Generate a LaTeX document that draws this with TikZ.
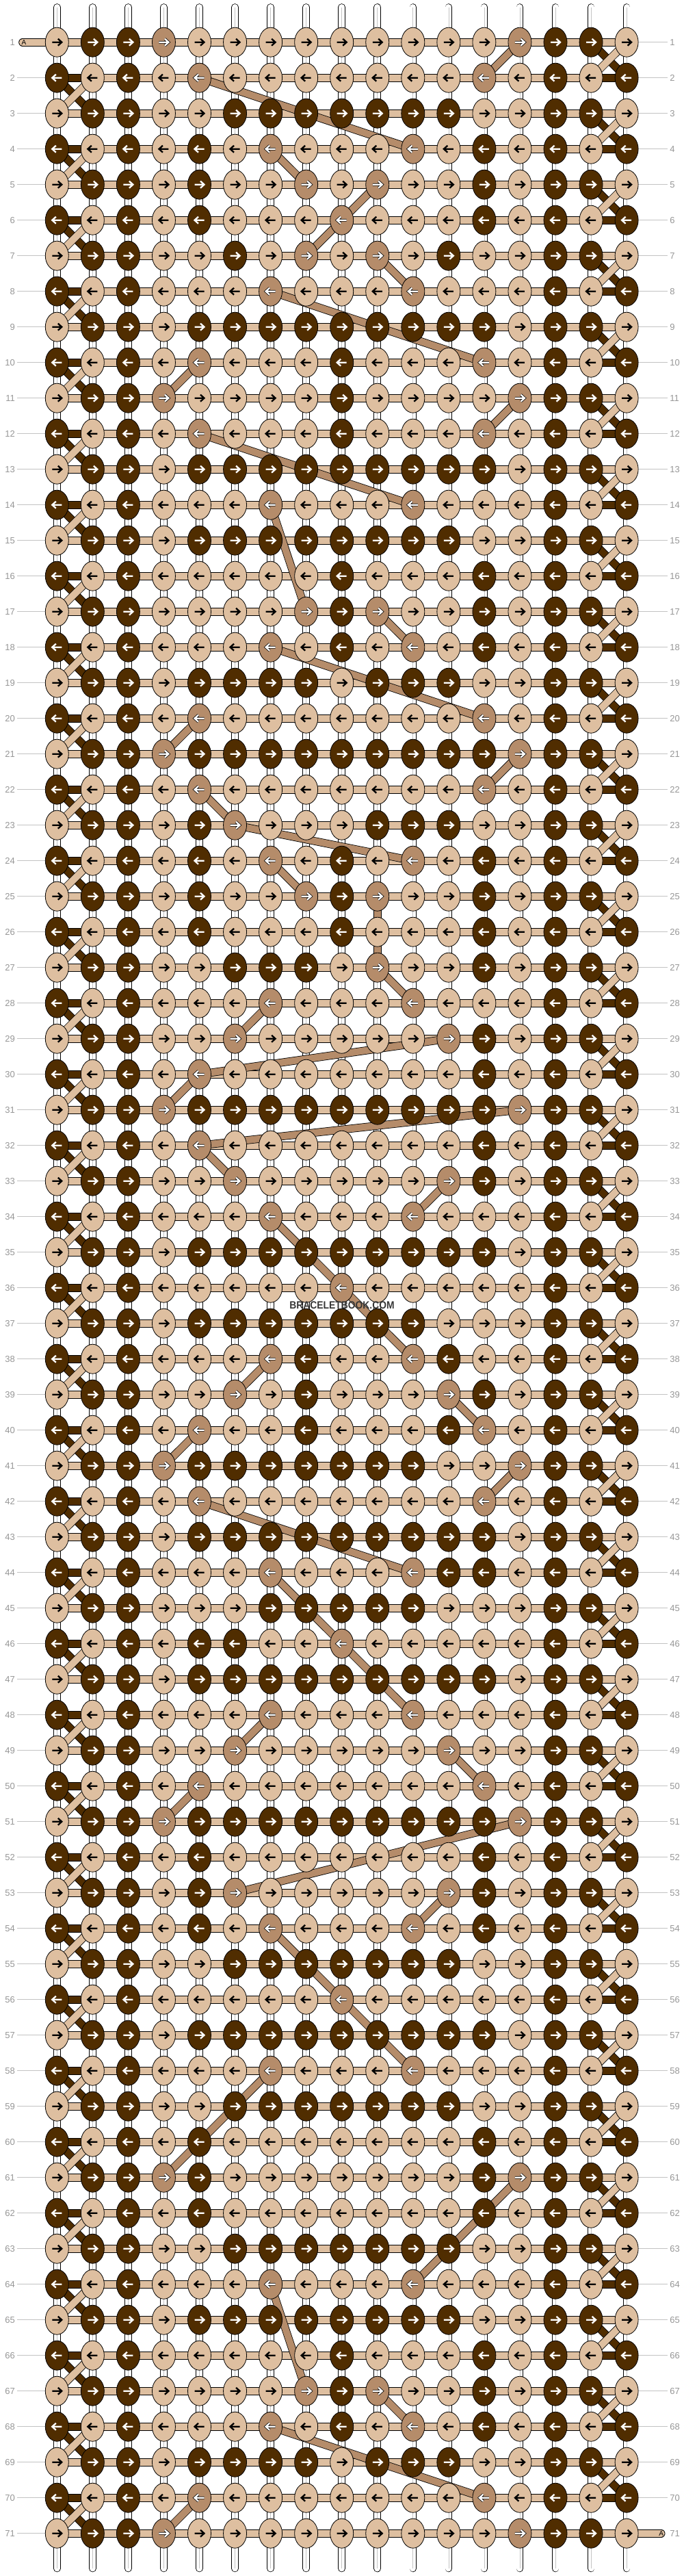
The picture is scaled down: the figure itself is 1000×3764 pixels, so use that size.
\documentclass[tikz,border=0pt]{standalone}
\usepackage{fontspec}
\usepackage{graphicx}
\usetikzlibrary{shapes.geometric}
\newfontfamily\labfont{Liberation Sans}
\definecolor{kL}{RGB}{222,191,160}
\definecolor{kD}{RGB}{80,45,0}
\definecolor{kM}{RGB}{181,140,106}
\definecolor{numgray}{RGB}{150,150,150}
\definecolor{rulegray}{RGB}{195,195,195}
\definecolor{markgray}{RGB}{55,55,55}
\pgfdeclarelayer{strings}
\pgfdeclarelayer{wefts}
\pgfsetlayers{strings,wefts,main}
\tikzset{
  knot/.style={ellipse,draw=black,line width=.8pt,minimum width=34pt,minimum height=43pt,inner sep=0pt},
  weft/.style={draw=black,double=#1,double distance=10pt,line width=.8pt},
  warp/.style={draw=black,double=white,double distance=9pt,line width=.8pt,line cap=round},
  rownum/.style={font=\labfont\fontsize{13}{15}\selectfont,text=numgray,inner sep=3pt},
  arrL/.style={draw=black},
  arrD/.style={draw=white},
  arrM/.style={draw=white,preaction={draw=black,line width=3.8pt}},
}
\begin{document}
\begin{tikzpicture}[x=1pt,y=-1pt,line join=miter]
\useasboundingbox (0,0) rectangle (1000,3764);
%knots, row by row
\foreach \row [count=\r] in {
{L,D,D,M,L,L,L,L,L,L,L,L,L,M,D,D,L},{D,L,D,L,M,L,L,L,L,L,L,L,M,L,D,L,D},
{L,D,D,L,L,D,D,D,D,D,D,D,L,L,D,D,L},{D,L,D,L,D,L,M,L,L,L,M,L,D,L,D,L,D},
{L,D,D,L,D,L,L,M,L,M,L,L,D,L,D,D,L},{D,L,D,L,D,L,L,L,M,L,L,L,D,L,D,L,D},
{L,D,D,L,L,D,L,M,L,M,L,D,L,L,D,D,L},{D,L,D,L,L,L,M,L,L,L,M,L,L,L,D,L,D},
{L,D,D,L,D,D,D,D,D,D,D,D,D,L,D,D,L},{D,L,D,L,M,L,L,L,D,L,L,L,M,L,D,L,D},
{L,D,D,M,L,L,L,L,D,L,L,L,L,M,D,D,L},{D,L,D,L,M,L,L,L,D,L,L,L,M,L,D,L,D},
{L,D,D,L,D,D,D,D,D,D,D,D,D,L,D,D,L},{D,L,D,L,L,L,M,L,L,L,M,L,L,L,D,L,D},
{L,D,D,L,D,D,D,D,D,D,D,D,L,L,D,D,L},{D,L,D,L,L,L,L,L,D,L,L,L,D,L,D,L,D},
{L,D,D,L,L,L,L,M,D,M,L,L,D,L,D,D,L},{D,L,D,L,L,L,M,L,D,L,M,L,D,L,D,L,D},
{L,D,D,L,D,D,D,D,L,D,D,D,L,L,D,D,L},{D,L,D,L,M,L,L,L,L,L,L,L,M,L,D,L,D},
{L,D,D,M,D,D,D,D,D,D,D,D,D,M,D,D,L},{D,L,D,L,M,L,L,L,L,L,L,L,M,L,D,L,D},
{L,D,D,L,D,M,L,L,L,D,D,D,L,L,D,D,L},{D,L,D,L,D,L,M,L,D,L,M,L,D,L,D,L,D},
{L,D,D,L,D,L,L,M,D,M,L,L,D,L,D,D,L},{D,L,D,L,D,L,L,L,D,L,L,L,D,L,D,L,D},
{L,D,D,L,L,D,D,D,L,M,L,L,D,L,D,D,L},{D,L,D,L,L,L,M,L,L,L,M,L,L,L,D,L,D},
{L,D,D,L,L,M,L,L,L,L,L,M,D,L,D,D,L},{D,L,D,L,M,L,L,L,L,L,L,L,D,L,D,L,D},
{L,D,D,M,D,D,D,D,D,D,D,D,D,M,D,D,L},{D,L,D,L,M,L,L,L,L,L,L,L,D,L,D,L,D},
{L,D,D,L,L,M,L,L,L,L,L,M,D,L,D,D,L},{D,L,D,L,L,L,M,L,L,L,M,L,L,L,D,L,D},
{L,D,D,L,D,D,D,D,D,D,D,D,D,L,D,D,L},{D,L,D,L,L,L,L,L,M,L,L,L,L,L,D,L,D},
{L,D,D,L,D,D,D,D,D,D,D,L,L,L,D,D,L},{D,L,D,L,L,L,M,D,L,L,M,D,L,L,D,L,D},
{L,D,D,L,L,M,L,D,L,L,L,M,D,L,D,D,L},{D,L,D,L,M,L,L,D,L,L,L,D,M,L,D,L,D},
{L,D,D,M,D,D,D,D,D,D,D,L,L,M,D,D,L},{D,L,D,L,M,L,L,L,L,L,L,L,M,L,D,L,D},
{L,D,D,L,D,D,D,D,D,D,D,D,D,L,D,D,L},{D,L,D,L,L,L,M,L,L,L,M,D,D,L,D,L,D},
{L,D,D,L,L,L,D,D,D,D,D,L,L,L,D,D,L},{D,L,D,L,D,D,L,L,M,L,L,L,L,L,D,L,D},
{L,D,D,L,D,D,D,D,D,D,D,D,D,L,D,D,L},{D,L,D,L,L,L,M,L,L,L,M,L,L,L,D,L,D},
{L,D,D,L,L,M,L,L,L,L,L,M,L,L,D,D,L},{D,L,D,L,M,L,L,L,L,L,L,L,M,L,D,L,D},
{L,D,D,M,D,D,D,D,D,D,D,D,D,M,D,D,L},{D,L,D,L,D,L,L,L,L,L,L,L,D,L,D,L,D},
{L,D,D,L,D,M,L,L,L,L,L,M,D,L,D,D,L},{D,L,D,L,D,L,M,L,L,L,M,L,D,L,D,L,D},
{L,D,D,L,L,D,D,D,D,D,D,D,L,L,D,D,L},{D,L,D,L,L,L,L,L,M,L,L,L,L,L,D,L,D},
{L,D,D,L,D,D,D,D,D,D,D,D,D,L,D,D,L},{D,L,D,L,L,L,M,L,L,L,M,L,L,L,D,L,D},
{L,D,D,L,L,D,D,D,D,D,D,D,L,L,D,D,L},{D,L,D,L,D,L,L,L,L,L,L,L,D,L,D,L,D},
{L,D,D,M,D,L,L,L,L,L,L,L,D,M,D,D,L},{D,L,D,L,D,L,L,L,L,L,L,L,D,L,D,L,D},
{L,D,D,L,L,D,D,D,D,D,D,D,L,L,D,D,L},{D,L,D,L,L,L,M,L,L,L,M,L,L,L,D,L,D},
{L,D,D,L,D,D,D,D,D,D,D,D,L,L,D,D,L},{D,L,D,L,L,L,L,L,D,L,L,L,D,L,D,L,D},
{L,D,D,L,L,L,L,M,D,M,L,L,D,L,D,D,L},{D,L,D,L,L,L,M,L,D,L,M,L,D,L,D,L,D},
{L,D,D,L,D,D,D,D,L,D,D,D,L,L,D,D,L},{D,L,D,L,M,L,L,L,L,L,L,L,M,L,D,L,D},
{L,D,D,M,L,L,L,L,L,L,L,L,L,M,D,D,L}}{
  \pgfmathsetmacro\dir{isodd(\r)?1:-1}
  \foreach \k [count=\c] in \row {
    \node[knot,fill=k\k] (k-\r-\c) at ({83.3+52.05*(\c-1)},{61.7+52*(\r-1)}) {};
    \draw[arr\k,line width=2.3pt,shift={(k-\r-\c.center)}]
      ({-7*\dir},0) -- ({6*\dir},0) ({1.5*\dir},-5) -- ({7*\dir},0) -- ({1.5*\dir},5);
  }
  \node[rownum,anchor=east] (nl-\r) at ([xshift=-58.3pt]k-\r-1.center) {\r};
  \node[rownum,anchor=west] (nr-\r) at ([xshift=60pt]k-\r-17.center) {\r};
}
\node[text=markgray] (mark) at (500,1907.5)
  {\scalebox{0.9}[1]{\labfont\bfseries\fontsize{15.4}{17}\selectfont BRACELETBOOK.COM}};
%vertical strings and row rules
\begin{pgfonlayer}{strings}
  \foreach \c in {1,...,17}{
    \path (k-1-\c.center) ++(0,-51.2) coordinate (top-\c)
          (k-71-\c.center) ++(0,51.3) coordinate (bot-\c);
    \draw[warp] (top-\c) -- (bot-\c);
    \draw[rulegray,line width=.7pt] (top-\c) -- (bot-\c);
  }
  \foreach \r in {2,...,71} \draw[rulegray,line width=.8pt] (nl-\r.east) -- (k-\r-1.center);
  \foreach \r in {1,...,70} \draw[rulegray,line width=.8pt] (k-\r-17.center) -- (nr-\r.west);
\end{pgfonlayer}
%horizontal strings, edge turns, carried string
\begin{pgfonlayer}{wefts}
  \coordinate (a-in) at ([xshift=-50.3pt]k-1-1.center);
  \coordinate (a-out) at ([xshift=50.6pt]k-71-17.center);
  \draw[weft=kL,line cap=round] (a-in) -- (k-1-1.center);
  \draw[weft=kL,line cap=round] (k-71-17.center) -- (a-out);
  \foreach \r in {1,...,71}{
    \ifodd\r\relax
      \draw[weft=kL] (k-\r-1.center) -- (k-\r-17.center);
    \else
      \draw[weft=kD] (k-\r-1.center) -- (k-\r-17.center);
      \draw[weft=kL] (k-\r-2.center) -- (k-\r-16.center);
    \fi
  }
  \foreach \r [evaluate=\r as \s using int(\r+1)] in {1,...,70}{
    \ifodd\r\relax
      \draw[weft=kD] (k-\r-16.center) -- (k-\s-17.center);
      \draw[weft=kL] (k-\r-17.center) -- (k-\s-16.center);
    \else
      \draw[weft=kD] (k-\r-1.center) -- (k-\s-2.center);
      \draw[weft=kL] (k-\r-2.center) -- (k-\s-1.center);
    \fi
  }
  \foreach \a/\b/\c/\d in {1/14/2/13,2/5/4/11,4/7/5/8,5/10/6/9,6/9/7/8,7/10/8/11,
    8/7/10/13,10/5/11/4,11/14/12/13,12/5/14/11,14/7/17/8,17/10/18/11,18/7/20/13,
    20/5/21/4,21/14/22/13,22/5/23/6,23/6/24/11,24/7/25/8,25/10/27/10,27/10/28/11,
    28/7/29/6,29/12/30/5,30/5/31/4,31/14/32/5,32/5/33/6,33/12/34/11,34/7/36/9,
    36/9/38/11,38/7/39/6,39/12/40/13,40/5/41/4,41/14/42/13,42/5/44/11,44/7/46/9,
    46/9/48/11,48/7/49/6,49/12/50/13,50/5/51/4,51/14/53/6,53/12/54/11,54/7/56/9,
    56/9/58/11,58/7/61/4,61/14/64/11,64/7/67/8,67/10/68/11,68/7/70/13,70/5/71/4}
    \draw[weft=kM] (k-\a-\b.center) -- (k-\c-\d.center);
\end{pgfonlayer}
\node[font=\labfont\fontsize{10}{12}\selectfont,inner sep=0pt] (a-lab-in) at ([xshift=2pt]a-in) {A};
\node[font=\labfont\fontsize{10}{12}\selectfont,inner sep=0pt] (a-lab-out) at (a-out) {A};
\end{tikzpicture}
\end{document}
